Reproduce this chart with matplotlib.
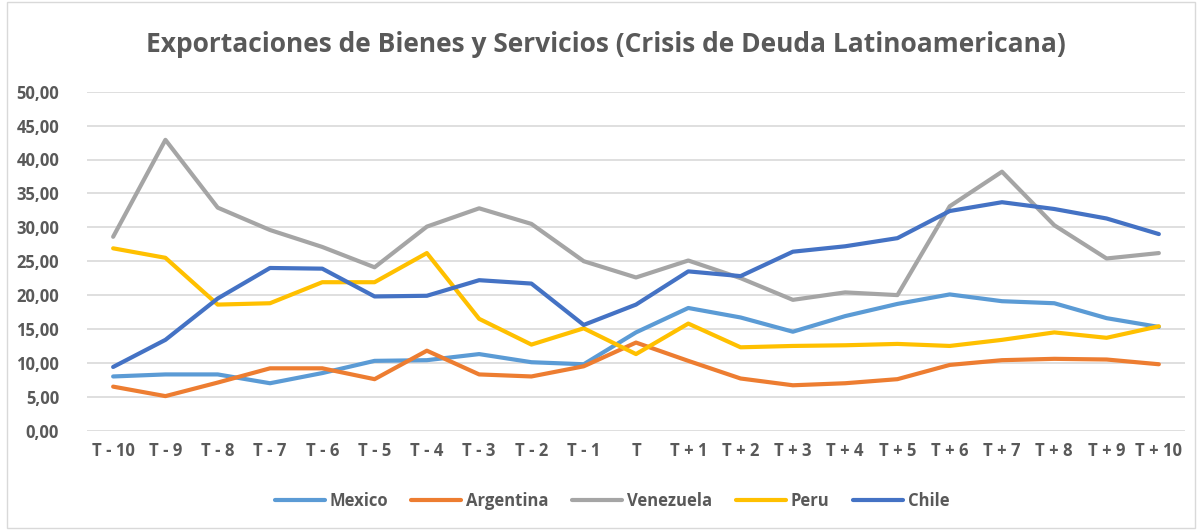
import numpy as np
import matplotlib
matplotlib.use("Agg")
import matplotlib.pyplot as plt
from matplotlib.patches import Rectangle

periods = ["T - 10", "T - 9", "T - 8", "T - 7", "T - 6", "T - 5", "T - 4", "T - 3", "T - 2", "T - 1", "T",
           "T + 1", "T + 2", "T + 3", "T + 4", "T + 5", "T + 6", "T + 7", "T + 8", "T + 9", "T + 10"]

mexico = [8.0, 8.3, 8.3, 7.0, 8.5, 10.3, 10.4, 11.3, 10.1, 9.8, 14.5,
          18.1, 16.7, 14.6, 16.9, 18.7, 20.1, 19.1, 18.8, 16.6, 15.3]
argentina = [6.5, 5.1, 7.1, 9.2, 9.2, 7.6, 11.8, 8.3, 8.0, 9.5, 13.0,
             10.3, 7.7, 6.7, 7.0, 7.6, 9.7, 10.4, 10.6, 10.5, 9.8]
venezuela = [28.6, 42.9, 32.9, 29.6, 27.1, 24.1, 30.1, 32.8, 30.5, 25.0, 22.6,
             25.1, 22.5, 19.3, 20.4, 20.0, 33.1, 38.2, 30.3, 25.4, 26.2]
peru = [26.9, 25.5, 18.6, 18.8, 21.9, 21.9, 26.2, 16.5, 12.7, 15.1, 11.3,
        15.8, 12.3, 12.5, 12.6, 12.8, 12.5, 13.4, 14.5, 13.7, 15.4]
chile = [9.4, 13.4, 19.5, 24.0, 23.9, 19.8, 19.9, 22.2, 21.7, 15.6, 18.6,
         23.5, 22.8, 26.4, 27.2, 28.4, 32.4, 33.7, 32.7, 31.3, 29.0]

series = [("Mexico", mexico, "#5B9BD5"),
          ("Argentina", argentina, "#ED7D31"),
          ("Venezuela", venezuela, "#A5A5A5"),
          ("Peru", peru, "#FFC000"),
          ("Chile", chile, "#4472C4")]

plt.rcParams['font.family'] = ['Open Sans', 'DejaVu Sans']
txt = "#595959"

fig = plt.figure(figsize=(12.03, 5.30), dpi=100)
ax = fig.add_axes([87/1203, 1-430.7/530, (1185-87)/1203, (430.7-91.7)/530])

x = np.arange(len(periods))
for name, vals, col in series:
    ax.plot(x, vals, color=col, lw=3.0, label=name, solid_capstyle='round', solid_joinstyle='round')

ax.set_xlim(-0.5, len(periods) - 0.5)
ax.set_ylim(0, 50)
ax.set_yticks(np.arange(0, 51, 5))
ax.set_yticklabels([f"{v:.2f}".replace(".", ",") for v in np.arange(0, 51, 5)])
ax.set_xticks(x)
ax.set_xticklabels(periods)
ax.grid(axis='y', color='#d9d9d9', lw=1.2)
ax.set_axisbelow(True)
for s in ax.spines.values():
    s.set_visible(False)
ax.tick_params(length=0, labelsize=12, labelcolor=txt, pad=8)
for lab in ax.get_xticklabels() + ax.get_yticklabels():
    lab.set_fontweight('bold')
ax.tick_params(axis='y', pad=20)

fig.text(0.504, 1-45/530, "Exportaciones de Bienes y Servicios (Crisis de Deuda Latinoamericana)",
         ha='center', va='center', fontsize=19, fontweight='bold', color=txt)

leg = fig.legend(loc='center', bbox_to_anchor=(612/1203, 1-501/530), ncol=5, frameon=False,
                 fontsize=12, handlelength=3.0, columnspacing=1.4, handletextpad=0.3)
for t in leg.get_texts():
    t.set_color(txt)
    t.set_fontweight('bold')

fig.patches.append(Rectangle((7/1203, 2/530), 1188/1203, 526/530, transform=fig.transFigure,
                             fill=False, edgecolor='#d9d9d9', lw=1))

fig.savefig("out.png", dpi=100, facecolor='white')
